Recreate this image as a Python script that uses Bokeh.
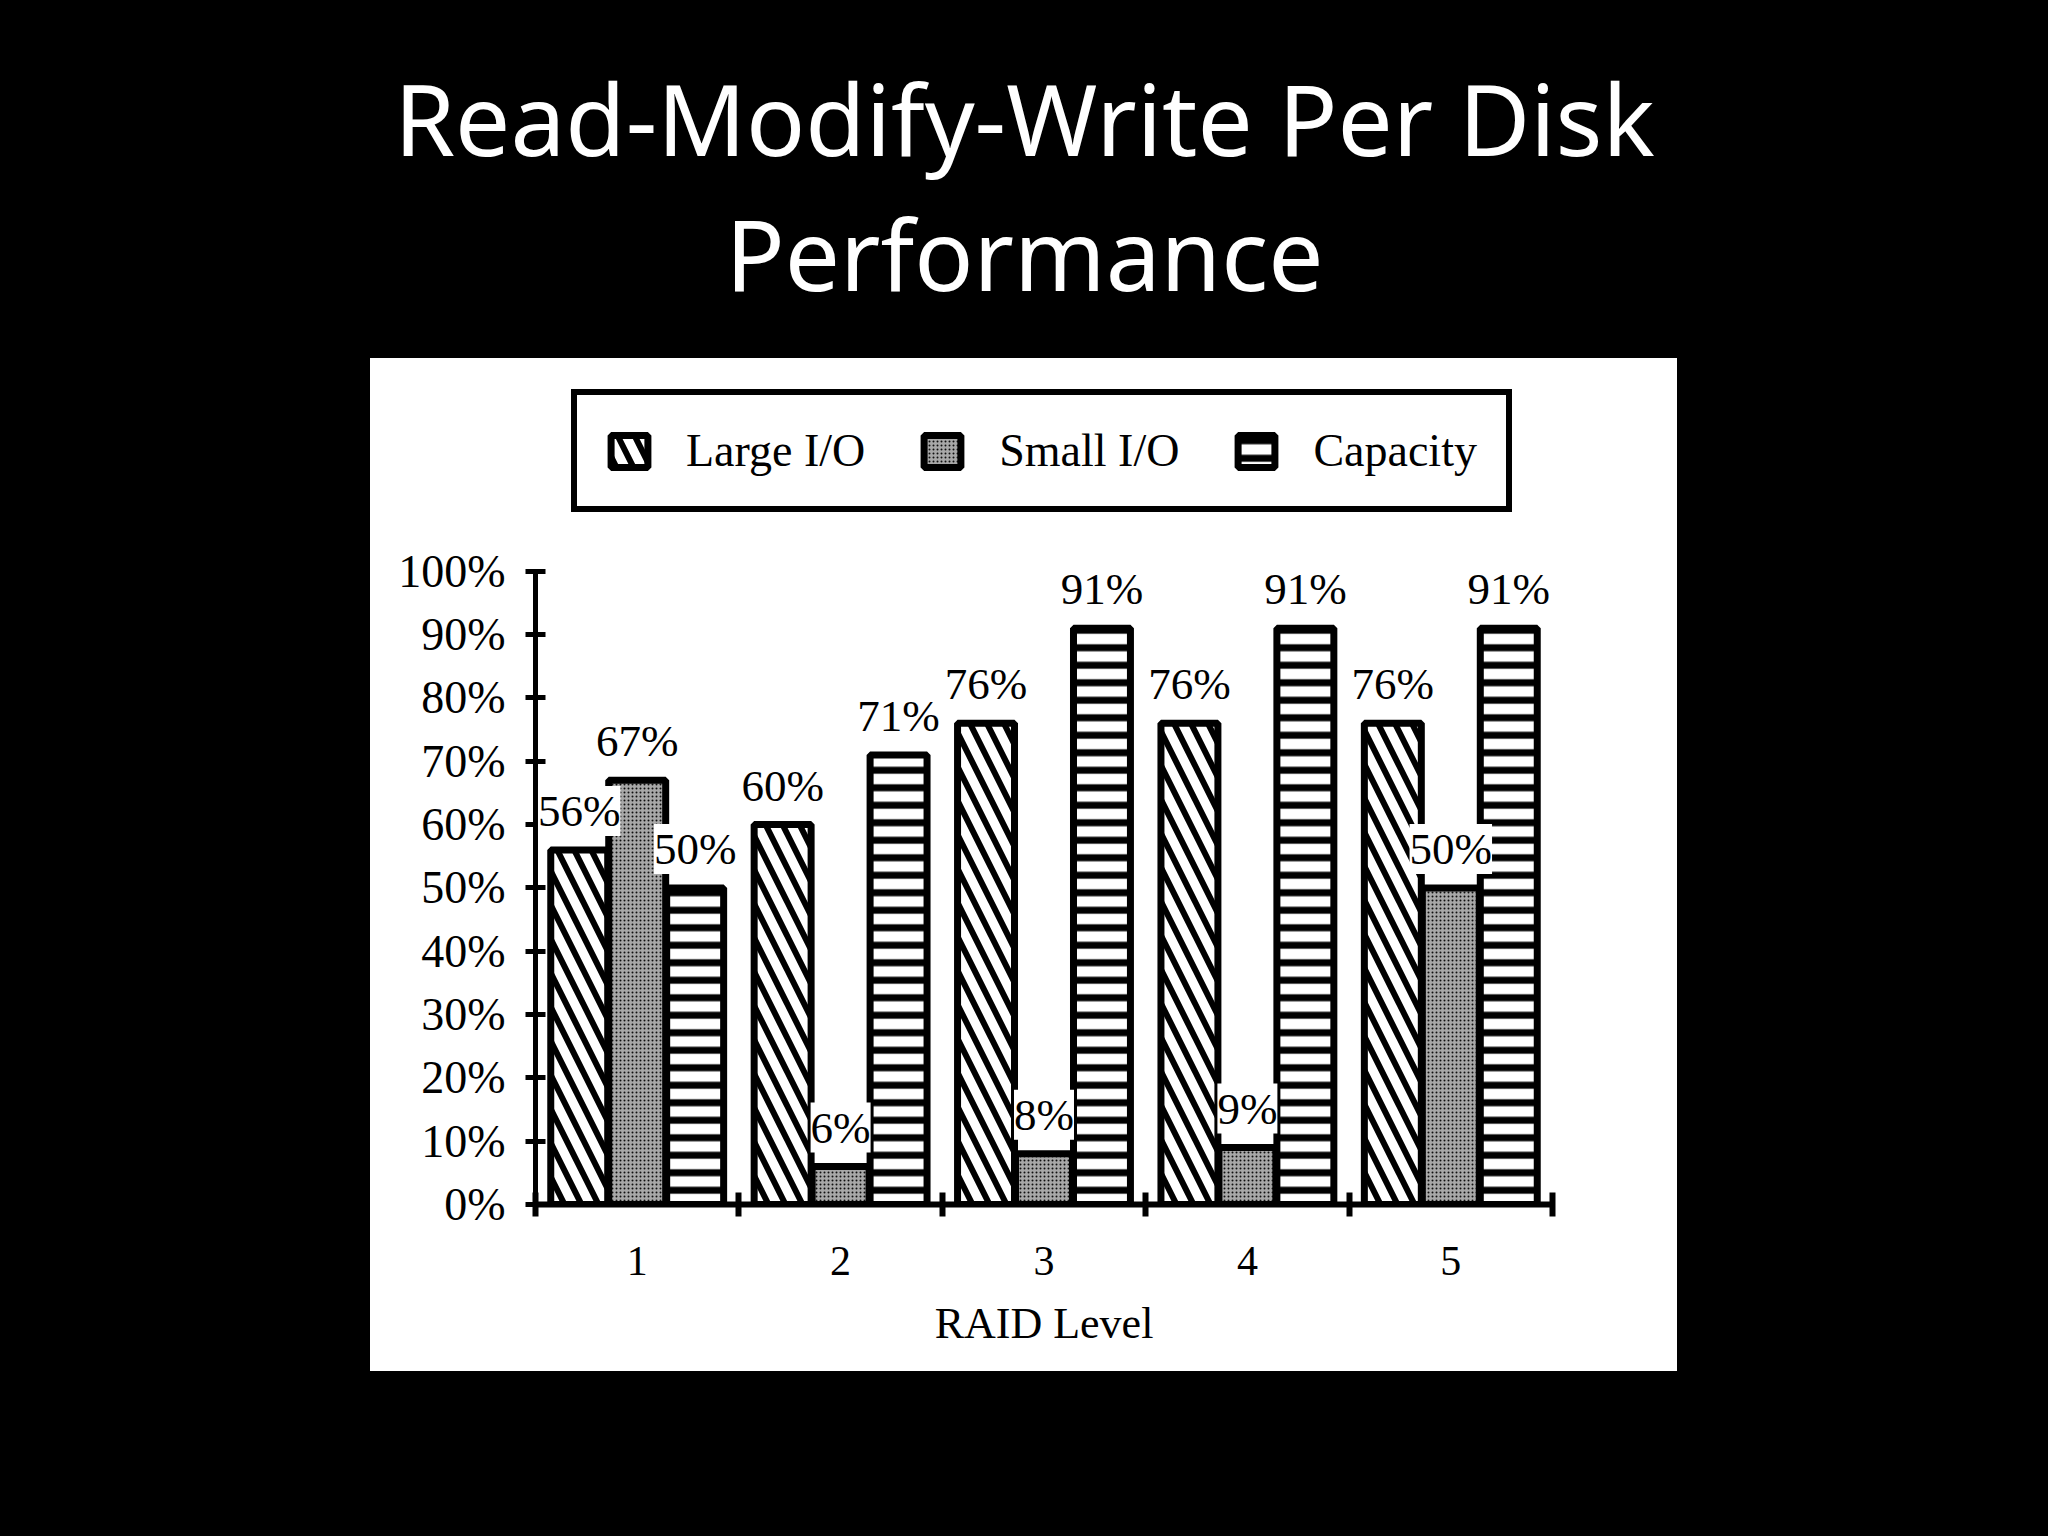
from bokeh.plotting import figure
from bokeh.models import (ColumnDataSource, LabelSet, Label, Legend, LegendItem,
                          FixedTicker, PrintfTickFormatter, Range1d, Spacer)
from bokeh.layouts import column, row
from bokeh.transform import dodge
from bokeh.embed import file_html
from bokeh.resources import INLINE

# ---------------- data ----------------
title_lines = ["Read-Modify-Write Per Disk", "Performance"]
raid_levels = ["1", "2", "3", "4", "5"]
series_names = ["Large I/O", "Small I/O", "Capacity"]
large_io = [56, 60, 76, 76, 76]
small_io = [67, 6, 8, 9, 50]
capacity = [50, 71, 91, 91, 91]
y_ticks = [0, 10, 20, 30, 40, 50, 60, 70, 80, 90, 100]
x_label = "RAID Level"

SERIF = "Liberation Serif"

x_pos = list(range(1, len(raid_levels) + 1))
src = ColumnDataSource(dict(
    x=x_pos,
    large=large_io, small=small_io, cap=capacity,
    large_txt=[f"{v}%" for v in large_io],
    small_txt=[f"{v}%" for v in small_io],
    cap_txt=[f"{v}%" for v in capacity],
))

# ---------------- title figure ----------------
TW, TH = 2048, 358
tf = figure(width=TW, height=TH, x_range=Range1d(0, TW), y_range=Range1d(0, TH),
            toolbar_location=None, output_backend="svg",
            x_axis_location=None, y_axis_location=None,
            min_border=0, outline_line_color=None,
            background_fill_color="black", border_fill_color="black")
tf.grid.visible = False
for txt, yy in zip(title_lines, [241, 106]):
    tf.add_layout(Label(x=TW / 2, y=yy, text=txt, text_align="center",
                        text_baseline="alphabetic", text_color="white",
                        text_font="Noto Sans", text_font_size="98px",
                        text_font_style="normal"))

# ---------------- chart figure ----------------
W, H = 1307, 1013
p = figure(width=W, height=H, x_range=Range1d(0.5, len(raid_levels) + 0.5),
           y_range=Range1d(0, 133.6),
           toolbar_location=None, output_backend="svg",
           min_border_left=165, min_border_right=125, min_border_top=0,
           min_border_bottom=167,
           background_fill_color="white", border_fill_color="white",
           outline_line_color=None)
p.styles = {"background-color": "white"}
p.grid.visible = False

offsets = [-0.285, 0.0, 0.285]
fields = ["large", "small", "cap"]
styles = [
    dict(fill_color="white", hatch_pattern="\\", hatch_scale=34, hatch_weight=6,
         hatch_color="black"),
    dict(fill_color="#a8a8a8", hatch_pattern=".", hatch_scale=4, hatch_weight=2,
         hatch_color="#101010"),
    dict(fill_color="white", hatch_pattern="-", hatch_scale=17.5, hatch_weight=7,
         hatch_color="black"),
]
renderers = []
for f, off, st in zip(fields, offsets, styles):
    r = p.vbar(x=dodge("x", off), top=f, width=0.28, source=src,
               line_color="black", line_width=7, **st)
    renderers.append(r)

# value labels
for f, off in zip(fields, offsets):
    p.add_layout(LabelSet(x=dodge("x", off), y=f, text=f + "_txt", source=src,
                          text_align="center", text_baseline="alphabetic",
                          y_offset=24, text_font=SERIF, text_font_size="45px",
                          text_color="black", background_fill_color="white"))

# axes
xa = p.xaxis[0]
xa.ticker = FixedTicker(ticks=x_pos, minor_ticks=[v - 0.5 for v in x_pos] + [x_pos[-1] + 0.5])
xa.major_label_overrides = {v: lab for v, lab in zip(x_pos, raid_levels)}
xa.major_tick_in = 0
xa.major_tick_out = 0
xa.minor_tick_in = 12
xa.minor_tick_out = 12
xa.minor_tick_line_width = 6
xa.minor_tick_line_color = "black"
xa.axis_line_width = 6
xa.axis_line_color = "black"
xa.major_label_standoff = 30
xa.major_label_text_font = SERIF
xa.major_label_text_font_size = "42px"
xa.major_label_text_color = "black"
xa.axis_label = x_label
xa.axis_label_text_font = SERIF
xa.axis_label_text_font_size = "44px"
xa.axis_label_text_font_style = "normal"
xa.axis_label_text_color = "black"
xa.axis_label_standoff = 21

ya = p.yaxis[0]
ya.ticker = FixedTicker(ticks=y_ticks, minor_ticks=[])
ya.formatter = PrintfTickFormatter(format="%d%%")
ya.bounds = (y_ticks[0], y_ticks[-1])
ya.major_tick_in = 10
ya.major_tick_out = 10
ya.major_tick_line_width = 5
ya.major_tick_line_color = "black"
ya.minor_tick_in = 0
ya.minor_tick_out = 0
ya.axis_line_width = 5
ya.axis_line_color = "black"
ya.major_label_standoff = 20
ya.major_label_text_font = SERIF
ya.major_label_text_font_size = "46px"
ya.major_label_text_color = "black"

# legend
legend = Legend(items=[LegendItem(label=n, renderers=[r]) for n, r in zip(series_names, renderers)],
                orientation="horizontal", location=(36, 692),
                label_text_font=SERIF, label_text_font_size="46px", label_text_color="black",
                glyph_width=46, glyph_height=40, label_standoff=34, spacing=54,
                padding=29, margin=0, border_line_color="black", border_line_width=6,
                border_line_alpha=1.0,
                background_fill_color="white", background_fill_alpha=1.0)
p.add_layout(legend, "center")

layout = column(tf, row(Spacer(width=370, height=H), p))

html = file_html(layout, INLINE)
html = html.replace("<head>", "<head><style>html,body{background:#000;}</style>", 1)
open("out.html", "w").write(html)
